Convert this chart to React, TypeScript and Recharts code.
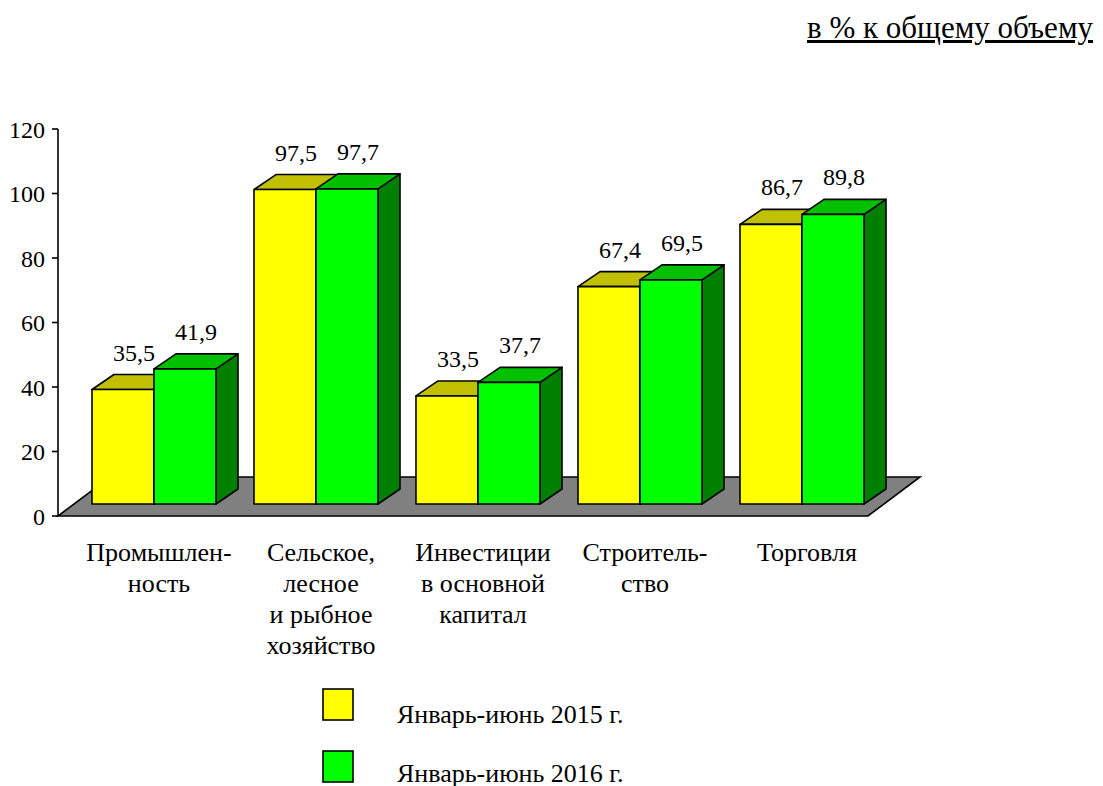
import { BarChart, Bar, XAxis, YAxis, Legend, LabelList, usePlotArea } from 'recharts';

const categories = [
    'Промышлен-\nность',
    'Сельское,\nлесное\nи рыбное\nхозяйство',
    'Инвестиции\nв основной\nкапитал',
    'Строитель-\nство',
    'Торговля',
];
const values2015 = [35.5, 97.5, 33.5, 67.4, 86.7];
const values2016 = [41.9, 97.7, 37.7, 69.5, 89.8];
const yTicks = [0, 20, 40, 60, 80, 100, 120];
const seriesNames = ['Январь-июнь 2015 г.', 'Январь-июнь 2016 г.'];

const data = categories.map((name, i) => ({
    name,
    y2015: values2015[i],
    y2016: values2016[i],
}));

const FONT = "'Liberation Serif', 'Times New Roman', serif";

// 3d projection: floor depth, bar depth, and where the bar front sits inside the floor
const FLOOR_DX = 52;
const FLOOR_DY = -39;
const BAR_DX = 22;
const BAR_DY = -15;
const SHIFT_X = 15;
const SHIFT_Y = -12;

const makeBox = (front: string, top: string, side: string) => (props: any) => {
    const { x, y, width, height } = props;
    const fx = x + SHIFT_X;
    const fy = y + SHIFT_Y;
    return (
        <g stroke="#000" strokeWidth={1.6} strokeLinejoin="round">
            <polygon
                points={`${fx + width},${fy} ${fx + width + BAR_DX},${fy + BAR_DY} ${fx + width + BAR_DX},${fy + height + BAR_DY} ${fx + width},${fy + height}`}
                fill={side}
            />
            <polygon
                points={`${fx},${fy} ${fx + BAR_DX},${fy + BAR_DY} ${fx + width + BAR_DX},${fy + BAR_DY} ${fx + width},${fy}`}
                fill={top}
            />
            <rect x={fx} y={fy} width={width} height={height} fill={front} />
        </g>
    );
};

const YellowBox = makeBox('#FFFF00', '#C0C000', '#808000');
const GreenBox = makeBox('#00FF00', '#00C000', '#008000');

function Floor() {
    const area = usePlotArea();
    if (!area) return null;
    const { x, y, width, height } = area;
    const b = y + height;
    return (
        <polygon
            points={`${x},${b} ${x + width},${b} ${x + width + FLOOR_DX},${b + FLOOR_DY} ${x + FLOOR_DX},${b + FLOOR_DY}`}
            fill="#808080"
            stroke="#000"
            strokeWidth={1.6}
        />
    );
}

const valueLabel = (props: any) => {
    const { x, y, width, value } = props;
    const cx = x + width / 2 + SHIFT_X + BAR_DX / 2;
    const cy = y + SHIFT_Y + BAR_DY - 14;
    return (
        <text x={cx} y={cy} textAnchor="middle" fontFamily={FONT} fontSize={24} fill="#000">
            {String(value).replace('.', ',')}
        </text>
    );
};

const CategoryTick = (props: any) => {
    const { x, y, payload } = props;
    const lines = String(payload.value).split('\n');
    const cx = x + SHIFT_X + 5;
    return (
        <text x={cx} y={y} textAnchor="middle" fontFamily={FONT} fontSize={26} fill="#000">
            {lines.map((line, i) => (
                <tspan key={i} x={cx} dy={i === 0 ? 37 : 31}>
                    {line}
                </tspan>
            ))}
        </text>
    );
};

const LegendBox = () => (
    <svg width={340} height={100}>
        {[0, 1].map(i => (
            <g key={i}>
                <rect
                    x={1}
                    y={1 + i * 62}
                    width={30}
                    height={31}
                    fill={i === 0 ? '#FFFF00' : '#00FF00'}
                    stroke="#000"
                    strokeWidth={1.6}
                />
                <text x={75} y={35 + i * 59} fontFamily={FONT} fontSize={26} fill="#000">
                    {seriesNames[i]}
                </text>
            </g>
        ))}
    </svg>
);

export default function App() {
    return (
        <div style={{ position: 'relative', width: 1087, height: 778 }}>
            <div
                style={{
                    position: 'absolute',
                    right: 2,
                    top: 4,
                    fontFamily: FONT,
                    fontSize: 31,
                    lineHeight: '31px',
                    textDecoration: 'underline',
                    whiteSpace: 'nowrap',
                }}
            >
                в % к общему объему
            </div>
            <BarChart
                width={1087}
                height={778}
                data={data}
                margin={{ top: 121, right: 227, left: 10, bottom: 0 }}
                barSize={62}
                barGap={0}
            >
                <Floor />
                <XAxis
                    dataKey="name"
                    axisLine={false}
                    tickLine={false}
                    height={270}
                    interval={0}
                    tick={<CategoryTick />}
                />
                <YAxis
                    domain={[0, 120]}
                    ticks={yTicks}
                    width={40}
                    axisLine={{ stroke: '#000', strokeWidth: 1.6 }}
                    tickLine={{ stroke: '#000', strokeWidth: 1.6 }}
                    tickSize={6}
                    tickMargin={7}
                    tick={{ fontFamily: FONT, fontSize: 24, fill: '#000' }}
                />
                <Legend
                    layout="vertical"
                    align="center"
                    verticalAlign="middle"
                    wrapperStyle={{ left: 314, top: 680, width: 340, bottom: 'auto' }}
                    content={<LegendBox />}
                />
                <Bar dataKey="y2015" name={seriesNames[0]} shape={YellowBox} isAnimationActive={false}>
                    <LabelList dataKey="y2015" content={valueLabel} />
                </Bar>
                <Bar dataKey="y2016" name={seriesNames[1]} shape={GreenBox} isAnimationActive={false}>
                    <LabelList dataKey="y2016" content={valueLabel} />
                </Bar>
            </BarChart>
        </div>
    );
}
